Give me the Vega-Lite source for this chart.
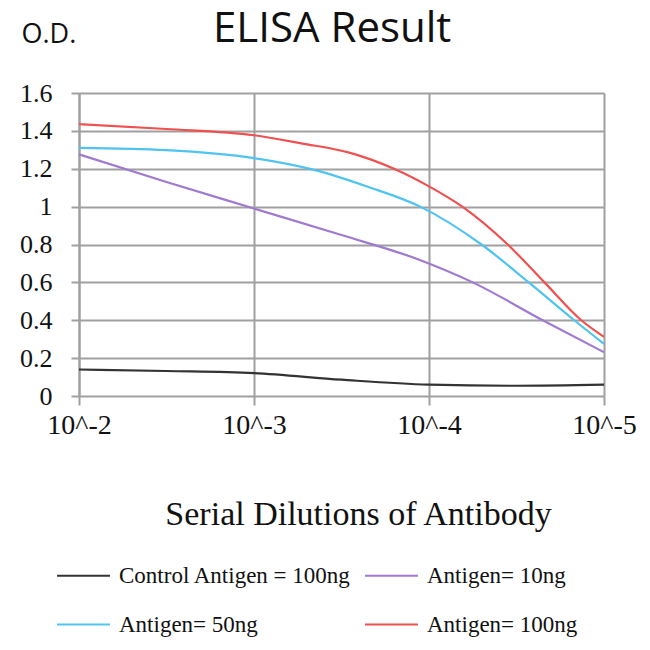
{
  "$schema": "https://vega.github.io/schema/vega-lite/v6.json",
  "width": 525,
  "height": 303,
  "autosize": "none",
  "padding": {"left": 79, "top": 93, "right": 46, "bottom": 254},
  "background": "white",
  "title": {"text": "ELISA Result", "font": "Open Sans", "fontSize": 42, "fontWeight": "normal", "color": "#111", "anchor": "start", "frame": "group", "dx": 134, "offset": -64, "baseline": "alphabetic"},
  "config": {"view": {"stroke": null}},
  "data": {"values": [
    {"x": 2, "od": 0.14, "series": "Control Antigen = 100ng"},
    {"x": 2.5, "od": 0.132, "series": "Control Antigen = 100ng"},
    {"x": 3, "od": 0.121, "series": "Control Antigen = 100ng"},
    {"x": 3.5, "od": 0.086, "series": "Control Antigen = 100ng"},
    {"x": 4, "od": 0.06, "series": "Control Antigen = 100ng"},
    {"x": 4.5, "od": 0.054, "series": "Control Antigen = 100ng"},
    {"x": 5, "od": 0.06, "series": "Control Antigen = 100ng"},
    {"x": 2, "od": 1.276, "series": "Antigen= 10ng"},
    {"x": 2.5, "od": 1.13, "series": "Antigen= 10ng"},
    {"x": 3, "od": 0.99, "series": "Antigen= 10ng"},
    {"x": 3.5, "od": 0.85, "series": "Antigen= 10ng"},
    {"x": 3.94, "od": 0.721, "series": "Antigen= 10ng"},
    {"x": 4.25, "od": 0.6, "series": "Antigen= 10ng"},
    {"x": 4.65, "od": 0.4, "series": "Antigen= 10ng"},
    {"x": 5, "od": 0.231, "series": "Antigen= 10ng"},
    {"x": 2, "od": 1.31, "series": "Antigen= 50ng"},
    {"x": 2.5, "od": 1.298, "series": "Antigen= 50ng"},
    {"x": 3, "od": 1.256, "series": "Antigen= 50ng"},
    {"x": 3.36, "od": 1.19, "series": "Antigen= 50ng"},
    {"x": 3.65, "od": 1.105, "series": "Antigen= 50ng"},
    {"x": 3.95, "od": 1.0, "series": "Antigen= 50ng"},
    {"x": 4.3, "od": 0.8, "series": "Antigen= 50ng"},
    {"x": 4.57, "od": 0.6, "series": "Antigen= 50ng"},
    {"x": 4.83, "od": 0.4, "series": "Antigen= 50ng"},
    {"x": 5, "od": 0.275, "series": "Antigen= 50ng"},
    {"x": 2, "od": 1.435, "series": "Antigen= 100ng"},
    {"x": 2.5, "od": 1.41, "series": "Antigen= 100ng"},
    {"x": 3, "od": 1.377, "series": "Antigen= 100ng"},
    {"x": 3.27, "od": 1.334, "series": "Antigen= 100ng"},
    {"x": 3.55, "od": 1.284, "series": "Antigen= 100ng"},
    {"x": 3.8, "od": 1.2, "series": "Antigen= 100ng"},
    {"x": 4, "od": 1.107, "series": "Antigen= 100ng"},
    {"x": 4.19, "od": 1.0, "series": "Antigen= 100ng"},
    {"x": 4.45, "od": 0.8, "series": "Antigen= 100ng"},
    {"x": 4.66, "od": 0.6, "series": "Antigen= 100ng"},
    {"x": 4.87, "od": 0.4, "series": "Antigen= 100ng"},
    {"x": 5, "od": 0.312, "series": "Antigen= 100ng"}
  ]},
  "layer": [
    {
      "mark": {"type": "line", "interpolate": "monotone", "strokeWidth": 2.2},
      "encoding": {
        "x": {"field": "x", "type": "quantitative", "scale": {"domain": [2, 5], "nice": false, "zero": false},
          "axis": {"values": [2, 3, 4, 5], "labelExpr": "'10^-' + datum.value", "title": "Serial Dilutions of Antibody",
            "titleFont": "Liberation Serif", "titleFontSize": 34, "titleFontWeight": "normal", "titleColor": "#111", "titleBaseline": "alphabetic", "titleY": 128, "titleX": 279,
            "labelFont": "Liberation Serif", "labelFontSize": 28, "labelColor": "#111", "labelPadding": 6, "labelFlush": false,
            "grid": true, "gridColor": "#a0a0a0", "gridWidth": 2, "domain": false, "tickColor": "#a0a0a0", "tickWidth": 2, "tickSize": 9}},
        "y": {"field": "od", "type": "quantitative", "scale": {"domain": [0, 1.6], "nice": false},
          "axis": {"values": [0, 0.2, 0.4, 0.6, 0.8, 1, 1.2, 1.4, 1.6], "format": ".1~f", "title": "O.D.",
            "titleFont": "Open Sans", "titleFontSize": 27, "titleFontWeight": "normal", "titleColor": "#111", "titleAngle": 0, "titleAnchor": "end", "titleAlign": "left", "titleBaseline": "alphabetic", "titleX": -58, "titleY": -51,
            "labelFont": "Liberation Serif", "labelFontSize": 26, "labelColor": "#111", "labelPadding": 19,
            "grid": true, "gridColor": "#a0a0a0", "gridWidth": 2, "domain": true, "domainColor": "#a0a0a0", "domainWidth": 2, "tickColor": "#a0a0a0", "tickWidth": 2, "tickSize": 8}},
        "color": {"field": "series", "type": "nominal",
          "scale": {"domain": ["Control Antigen = 100ng", "Antigen= 50ng", "Antigen= 10ng", "Antigen= 100ng"], "range": ["#333333", "#50c4f0", "#a07ad0", "#f05050"]},
          "legend": {"orient": "none", "legendX": -23, "legendY": 455, "columns": 2, "columnPadding": 9, "rowPadding": 9, "title": null,
            "symbolType": "stroke", "symbolSize": 2800, "symbolStrokeWidth": 2, "labelFont": "Liberation Serif", "labelFontSize": 23, "labelColor": "#111", "labelOffset": 8, "labelLimit": 400}}
      }
    }
  ]
}
